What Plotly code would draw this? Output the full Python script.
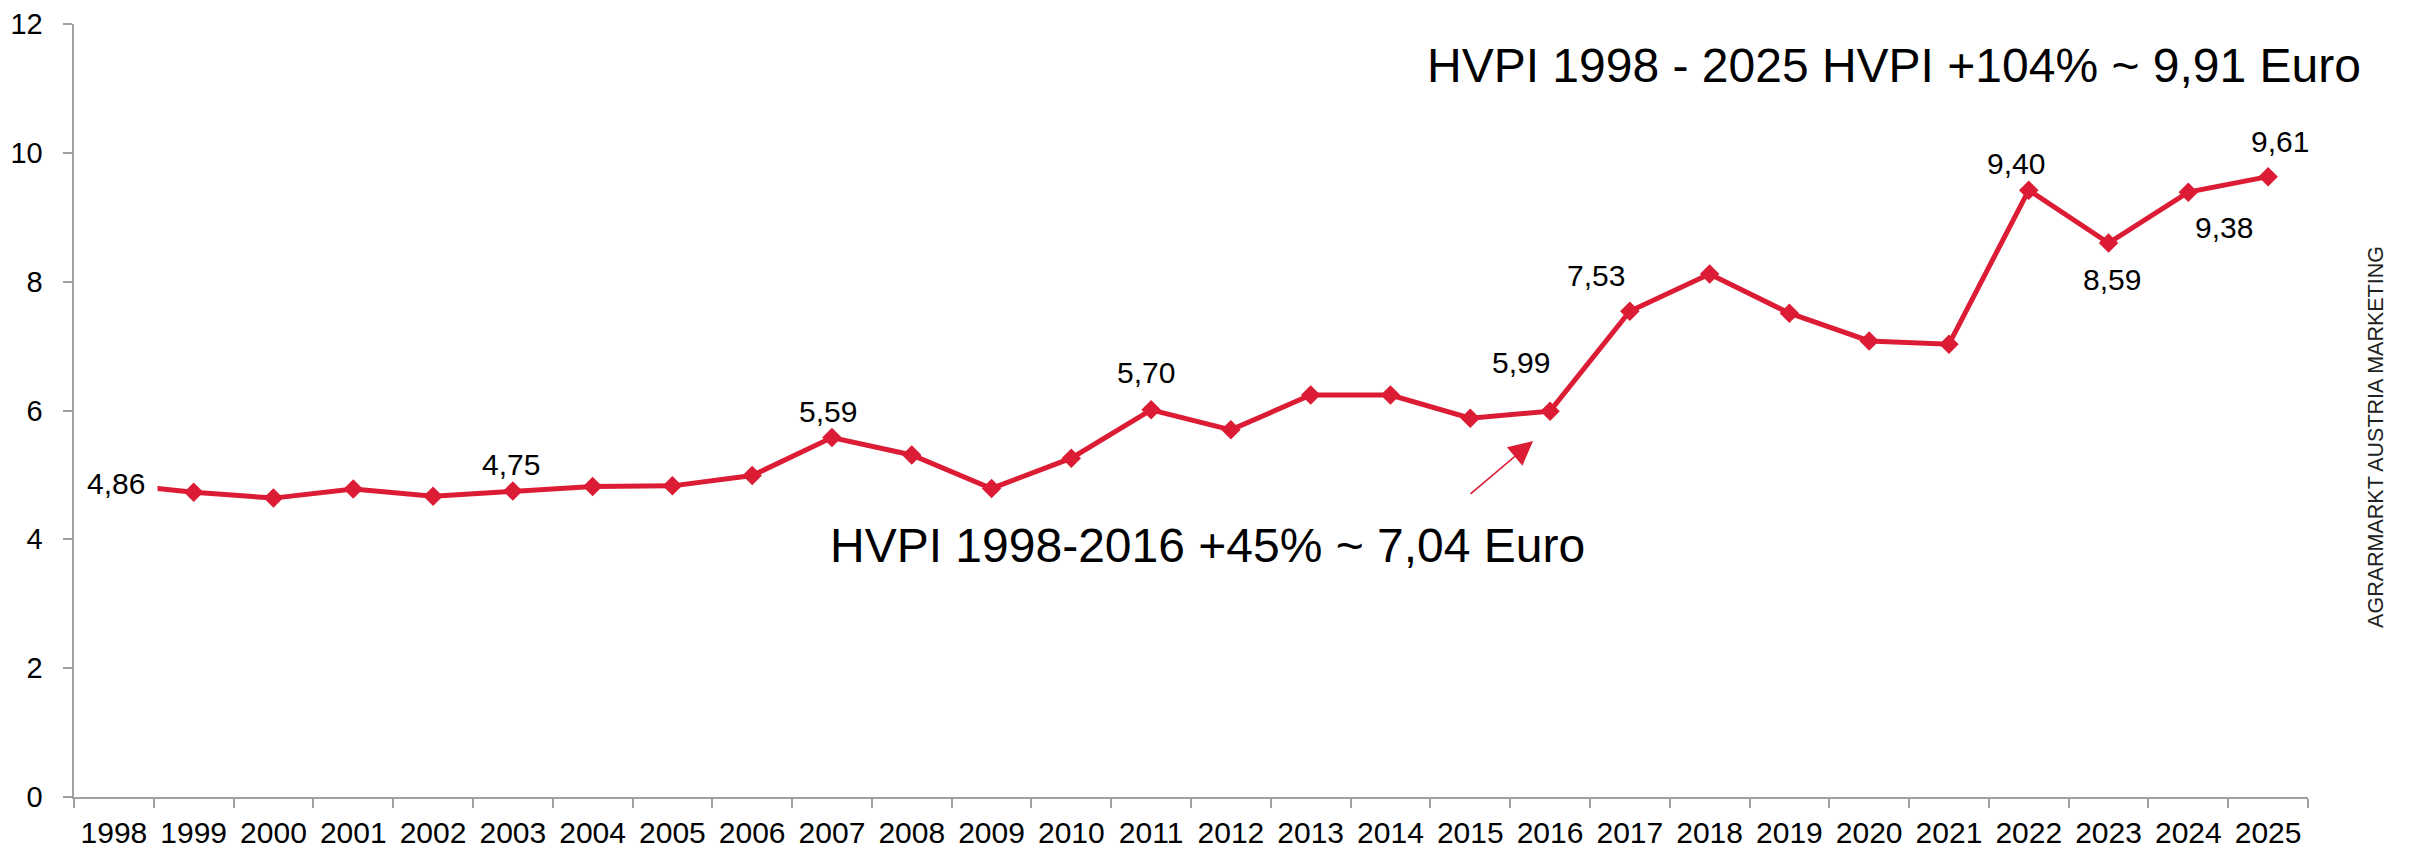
import plotly.graph_objects as go

years = [str(y) for y in range(1998, 2026)]
values = [4.86, 4.73, 4.64, 4.78, 4.67, 4.75, 4.82, 4.83, 4.99, 5.58,
          5.31, 4.79, 5.26, 6.01, 5.70, 6.24, 6.24, 5.88, 5.99, 7.54,
          8.12, 7.51, 7.08, 7.03, 9.42, 8.60, 9.39, 9.63]

label_years = ["1998", "2003", "2007", "2011", "2016", "2017", "2022", "2023", "2024", "2025"]
label_texts = ["4,86", "4,75", "5,59", "5,70", "5,99", "7,53", "9,40", "8,59", "9,38", "9,61"]
label_shifts = [(2, 0), (-2, 27), (-4, 26), (-5, 37), (-29, 49), (-34, 36),
                (-13, 27), (3, -36), (36, -35), (12, 35)]

y_ticks = [0, 2, 4, 6, 8, 10, 12]

RED = "#DC1C34"
GRAY = "#A0A0A0"
FONT = "Arial, Liberation Sans, sans-serif"

fig = go.Figure()
fig.add_trace(go.Scatter(
    x=years, y=values, mode="lines+markers",
    line=dict(color=RED, width=5),
    marker=dict(symbol="diamond", size=15, color=RED),
    showlegend=False, hoverinfo="skip",
))

annotations = []
val_by_year = dict(zip(years, values))
for yr, txt, (dx, dy) in zip(label_years, label_texts, label_shifts):
    ann = dict(x=years.index(yr), y=val_by_year[yr], xref="x", yref="y", text=txt,
               showarrow=False, xshift=dx, yshift=dy,
               font=dict(family=FONT, size=30, color="black"),
               xanchor="center", yanchor="middle")
    if yr == "1998":
        ann.update(bgcolor="white", borderpad=12)
    annotations.append(ann)

annotations.append(dict(
    x=0.8147, y=0.946, xref="paper", yref="paper",
    text="HVPI 1998 - 2025 HVPI +104% ~ 9,91 Euro", showarrow=False,
    font=dict(family=FONT, size=48, color="black"),
    xanchor="center", yanchor="middle"))
annotations.append(dict(
    x=0.5072, y=0.326, xref="paper", yref="paper",
    text="HVPI 1998-2016 +45% ~ 7,04 Euro", showarrow=False,
    font=dict(family=FONT, size=48, color="black"),
    xanchor="center", yanchor="middle"))
annotations.append(dict(
    x=0.6531, y=0.4605, xref="paper", yref="paper", text="",
    showarrow=True, ax=-64, ay=54, axref="pixel", ayref="pixel",
    arrowhead=2, arrowsize=3.0, arrowwidth=1.6, arrowcolor=RED))
annotations.append(dict(
    x=1.0305, y=0.466, xref="paper", yref="paper",
    text="AGRARMARKT AUSTRIA MARKETING", showarrow=False, textangle=-90,
    font=dict(family=FONT, size=21.5, color="#222222"),
    xanchor="center", yanchor="middle"))

fig.update_layout(
    width=2409, height=852,
    margin=dict(l=74, r=101, t=24, b=55, autoexpand=False),
    paper_bgcolor="white", plot_bgcolor="white",
    annotations=annotations,
    xaxis=dict(
        type="category", tickson="boundaries", ticks="outside", ticklen=9,
        tickcolor=GRAY, tickwidth=2, showline=True, linecolor=GRAY, linewidth=2,
        showgrid=False, zeroline=False, range=[-0.5, 27.5], tickangle=0,
        automargin=False, ticklabelstandoff=8,
        tickfont=dict(family=FONT, size=30, color="black"),
    ),
    yaxis=dict(
        range=[0, 12], tickvals=y_ticks,
        ticktext=[f"{v}\u2002" for v in y_ticks],
        ticks="outside", ticklen=9, automargin=False,
        tickcolor=GRAY, tickwidth=2, showline=True, linecolor=GRAY, linewidth=2,
        showgrid=False, zeroline=False,
        tickfont=dict(family=FONT, size=29, color="black"),
    ),
)

fig.write_html("out.html", config={"displayModeBar": False},
               post_script="document.body.style.margin='0';")
